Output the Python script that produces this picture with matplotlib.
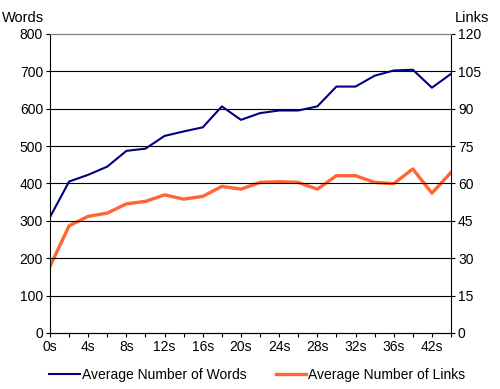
import matplotlib
matplotlib.use("Agg")
from matplotlib import pyplot as plt

plt.rcParams['font.family'] = ['Liberation Sans', 'DejaVu Sans']
plt.rcParams['font.size'] = 9.5

# categories (seconds), only every other one is labelled
times = ['0s', '2s', '4s', '6s', '8s', '10s', '12s', '14s', '16s', '18s', '20s',
         '22s', '24s', '26s', '28s', '30s', '32s', '34s', '36s', '40s', '42s', '44s']
words = [310, 405, 423, 445, 487, 493, 527, 539, 550, 606, 570,
         588, 595, 595, 606, 659, 659, 688, 702, 704, 656, 693]
links = [26.7, 43.0, 46.8, 48.1, 51.8, 52.8, 55.4, 53.7, 54.8, 58.8, 57.7,
         60.4, 60.7, 60.4, 57.7, 63.1, 63.1, 60.4, 59.9, 65.8, 56.1, 64.4]

fig = plt.figure(figsize=(5, 3.89), dpi=100)
ax = fig.add_axes([0.1, 0.144, 0.802, 0.769])
ax2 = ax.twinx()

x = list(range(len(times)))
l1, = ax.plot(x, words, color='#000080', lw=1.5, label='Average Number of Words')
l2, = ax2.plot(x, links, color='#FF6633', lw=2.4, label='Average Number of Links')
ax.set_zorder(ax2.get_zorder() + 1)
ax.patch.set_visible(False)

ax.set_xlim(0, len(times) - 1)
ax.set_ylim(0, 800)
ax.set_yticks(range(0, 801, 100))
ax2.set_ylim(0, 120)
ax2.set_yticks(range(0, 121, 15))
ax.set_xticks(x)
ax.set_xticklabels([t if i % 2 == 0 else '' for i, t in enumerate(times)])

for y in range(100, 800, 100):
    ax.axhline(y, color='black', lw=0.8, zorder=0)

for a in (ax, ax2):
    a.tick_params(direction='out', length=3, width=0.8, colors='black', pad=2,
                  labelsize=10)
    for s in a.spines.values():
        s.set_linewidth(0.8)
ax.spines['top'].set_color('#808080')
ax2.spines['top'].set_color('#808080')
ax.spines['right'].set_visible(False)
ax2.spines['left'].set_visible(False)

fig.text(0.004, 0.955, 'Words', ha='left', va='center', fontsize=10.5)
fig.text(0.91, 0.955, 'Links', ha='left', va='center', fontsize=10.5)

fig.legend([l1, l2], [l1.get_label(), l2.get_label()], loc='center',
           bbox_to_anchor=(0.515, 0.036), ncol=2, frameon=False, fontsize=10,
           handlelength=2.2, handletextpad=0.15, columnspacing=2.1)

fig.savefig('out.png', dpi=100)
